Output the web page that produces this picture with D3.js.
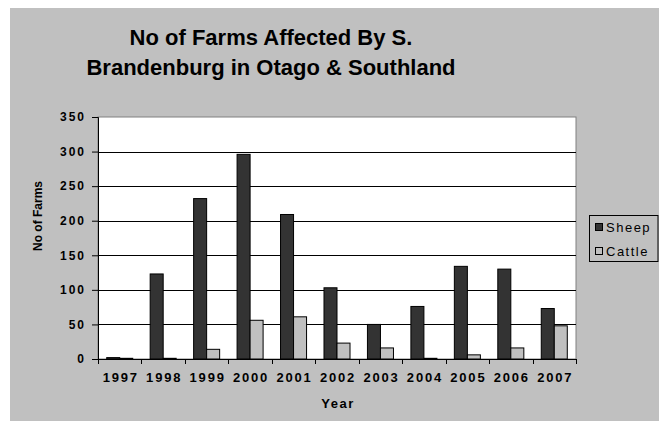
<!DOCTYPE html>
<html>
<head>
<meta charset="utf-8">
<script src="https://cdn.jsdelivr.net/npm/d3@7.9.0/dist/d3.min.js"></script>
<style>
  body { margin: 0; background: #fff; }
  svg { display: block; }
</style>
</head>
<body>
<div id="chart"></div>
<script>
const years = ['1997', '1998', '1999', '2000', '2001', '2002', '2003', '2004', '2005', '2006', '2007'];
const series = ['Sheep', 'Cattle'];
const sheep = [2, 123, 232, 296, 209, 103, 50, 76, 134, 130, 73];
const cattle = [1, 1, 14, 56, 61, 23, 16, 1, 6, 16, 48];
const yTicks = [0, 50, 100, 150, 200, 250, 300, 350];

const width = 659, height = 421;
const plot = { left: 98, right: 576, top: 117, bottom: 359 };
const colors = { Sheep: '#333333', Cattle: '#c0c0c0' };

const rows = years.map((y, i) => ({ year: y, Sheep: sheep[i], Cattle: cattle[i] }));

const svg = d3.select('#chart').append('svg')
  .attr('width', width)
  .attr('height', height);

// grey chart area
svg.append('rect')
  .attr('x', 10).attr('y', 8)
  .attr('width', width - 10).attr('height', height - 8)
  .attr('fill', '#c0c0c0');

// title
const title = svg.append('text')
  .attr('text-anchor', 'middle')
  .attr('font-family', 'Liberation Sans, Arial, sans-serif')
  .attr('font-weight', 'bold')
  .attr('font-size', 22)
  .attr('fill', '#000');
title.append('tspan').attr('x', 271).attr('y', 45).text('No of Farms Affected By S.');
title.append('tspan').attr('x', 271).attr('y', 75).text('Brandenburg in Otago & Southland');

const x = d3.scaleBand().domain(years).range([plot.left, plot.right]).padding(0);
const xInner = d3.scaleBand().domain(series).range([0, x.bandwidth()]).paddingInner(0).paddingOuter(0.67);
const y = d3.scaleLinear().domain([0, 350]).range([plot.bottom, plot.top]);

// plot area
svg.append('rect')
  .attr('x', plot.left).attr('y', plot.top)
  .attr('width', plot.right - plot.left).attr('height', plot.bottom - plot.top)
  .attr('fill', '#fff')
  .attr('stroke', '#808080')
  .attr('stroke-width', 1);

// gridlines
svg.append('g')
  .selectAll('line')
  .data(yTicks.filter(d => d > 0 && d < 350))
  .join('line')
  .attr('x1', plot.left).attr('x2', plot.right)
  .attr('y1', d => Math.round(y(d)) + 0.5).attr('y2', d => Math.round(y(d)) + 0.5)
  .attr('stroke', '#000')
  .attr('stroke-width', 1);

// bars
const groups = svg.append('g')
  .selectAll('g')
  .data(rows)
  .join('g')
  .attr('transform', d => `translate(${x(d.year)},0)`);

groups.selectAll('rect')
  .data(d => series.map(s => ({ key: s, value: d[s] })))
  .join('rect')
  .attr('x', d => xInner(d.key))
  .attr('y', d => y(d.value))
  .attr('width', xInner.bandwidth())
  .attr('height', d => y(0) - y(d.value))
  .attr('fill', d => colors[d.key])
  .attr('stroke', '#000')
  .attr('stroke-width', 1);

// y axis
const yAxis = d3.axisLeft(y).tickValues(yTicks).tickSize(6).tickPadding(6);
const gy = svg.append('g')
  .attr('transform', `translate(${plot.left},0)`)
  .call(yAxis);
gy.select('.domain').attr('stroke', '#000');
gy.selectAll('.tick line').attr('stroke', '#000');
gy.selectAll('.tick text')
  .attr('font-family', 'Liberation Sans, Arial, sans-serif')
  .attr('font-weight', 'bold')
  .attr('font-size', 12)
  .attr('letter-spacing', '2px')
  .attr('fill', '#000');

// x axis
const xAxis = d3.axisBottom(x).tickSize(0).tickPadding(14);
const gx = svg.append('g')
  .attr('transform', `translate(0,${plot.bottom})`)
  .call(xAxis);
gx.select('.domain').attr('stroke', '#000').attr('d', `M${plot.left},0.5H${plot.right}`);
gx.selectAll('.tick text')
  .attr('font-family', 'Liberation Sans, Arial, sans-serif')
  .attr('font-weight', 'bold')
  .attr('font-size', 13)
  .attr('letter-spacing', '1.8px')
  .attr('dx', '1px')
  .attr('fill', '#000');

// category boundary ticks
gx.append('g')
  .selectAll('line')
  .data(years.map(d => x(d)).concat([plot.right]))
  .join('line')
  .attr('x1', d => Math.round(d) + 0.5).attr('x2', d => Math.round(d) + 0.5)
  .attr('y1', 0).attr('y2', 5)
  .attr('stroke', '#000');

// axis titles
svg.append('text')
  .attr('x', 338).attr('y', 408)
  .attr('text-anchor', 'middle')
  .attr('font-family', 'Liberation Sans, Arial, sans-serif')
  .attr('font-weight', 'bold')
  .attr('font-size', 13)
  .attr('letter-spacing', '1.5px')
  .text('Year');

svg.append('text')
  .attr('transform', 'translate(41.5,216) rotate(-90)')
  .attr('text-anchor', 'middle')
  .attr('font-family', 'Liberation Sans, Arial, sans-serif')
  .attr('font-weight', 'bold')
  .attr('font-size', 12)
  .text('No of Farms');

// legend
const legend = svg.append('g').attr('transform', 'translate(589,215)');
legend.append('rect')
  .attr('x', 0.5).attr('y', 0.5)
  .attr('width', 68.5).attr('height', 46)
  .attr('fill', '#c0c0c0')
  .attr('stroke', '#000');

const items = legend.selectAll('g.item')
  .data(series)
  .join('g')
  .attr('class', 'item')
  .attr('transform', (d, i) => `translate(6,${8 + i * 24})`);

items.append('rect')
  .attr('x', 0.5).attr('y', 0.5)
  .attr('width', 7).attr('height', 7)
  .attr('fill', d => colors[d])
  .attr('stroke', '#000');

items.append('text')
  .attr('x', 11).attr('y', 8.7)
  .attr('font-family', 'Liberation Sans, Arial, sans-serif')
  .attr('font-size', 13)
  .attr('letter-spacing', '1.5px')
  .text(d => d);
</script>
</body>
</html>
